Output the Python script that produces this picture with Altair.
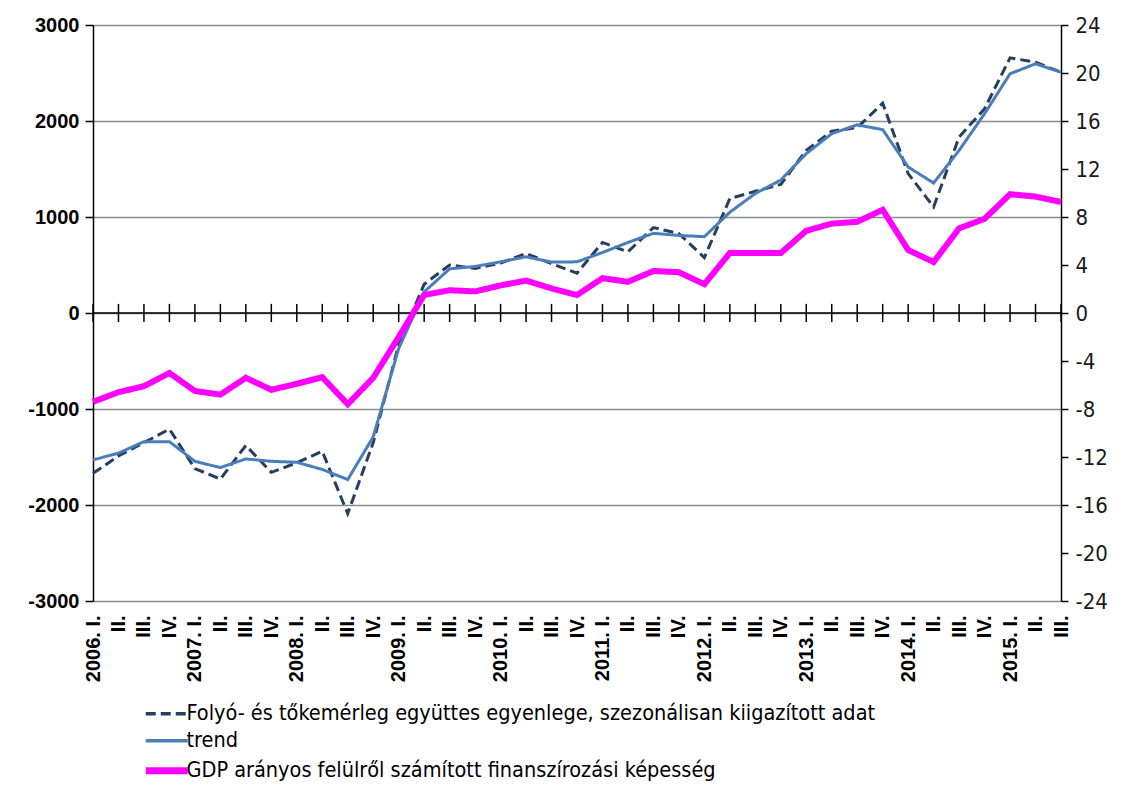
import altair as alt
import pandas as pd

quarter_labels = [
    "2006. I.", "II.", "III.", "IV.",
    "2007. I.", "II.", "III.", "IV.",
    "2008. I.", "II.", "III.", "IV.",
    "2009. I.", "II.", "III.", "IV.",
    "2010. I.", "II.", "III.", "IV.",
    "2011. I.", "II.", "III.", "IV.",
    "2012. I.", "II.", "III.", "IV.",
    "2013. I.", "II.", "III.", "IV.",
    "2014. I.", "II.", "III.", "IV.",
    "2015. I.", "II.", "III.",
]

balance = [-1670, -1490, -1350, -1210, -1620, -1730, -1380, -1660, -1560, -1440,
           -2090, -1350, -330, 300, 500, 465, 520, 620, 515, 415,
           735, 637, 890, 828, 577, 1192, 1268, 1340, 1694, 1895,
           1930, 2185, 1452, 1105, 1833, 2128, 2658, 2612, 2508]

trend = [-1530, -1460, -1340, -1340, -1545, -1610, -1520, -1545, -1555, -1630,
         -1735, -1290, -370, 220, 460, 485, 533, 585, 530, 533,
         630, 735, 830, 808, 795, 1050, 1245, 1385, 1660, 1868,
         1960, 1910, 1521, 1354, 1694, 2076, 2492, 2596, 2508]

gdp_ratio = [-7.4, -6.6, -6.1, -5.0, -6.5, -6.8, -5.4, -6.4, -5.9, -5.35,
             -7.6, -5.4, -2.0, 1.5, 1.9, 1.8, 2.3, 2.7, 2.05, 1.5,
             2.9, 2.6, 3.5, 3.4, 2.4, 5.0, 5.0, 5.0, 6.85, 7.45,
             7.6, 8.6, 5.25, 4.25, 7.05, 7.85, 9.9, 9.7, 9.25]

series_names = [
    "Folyó- és tőkemérleg együttes egyenlege, szezonálisan kiigazított adat",
    "trend",
    "GDP arányos felülről számított finanszírozási képesség",
]
series_colors = ["#243F60", "#4A7EBB", "#FF00FF"]
series_dash = [[10, 5], [1, 0], [1, 0]]

left_ticks = [-3000, -2000, -1000, 0, 1000, 2000, 3000]
right_ticks = [-24, -20, -16, -12, -8, -4, 0, 4, 8, 12, 16, 20, 24]

n = len(quarter_labels)
idx = list(range(n))

df = pd.DataFrame({
    "idx": idx * 3,
    "value": balance + trend + gdp_ratio,
    "series": [series_names[0]] * n + [series_names[1]] * n + [series_names[2]] * n,
})
left_df = df[df["series"] != series_names[2]]
right_df = df[df["series"] == series_names[2]]
ticks_df = pd.DataFrame({"idx": idx})
zero_df = pd.DataFrame({"v": [0]})

bold_font = "Liberation Sans"
cond_font = "DejaVu Sans Condensed, DejaVu Sans"

label_array = "[" + ",".join("'" + s + "'" for s in quarter_labels) + "]"

x_scale = alt.Scale(domain=[0, n - 1], nice=False, zero=False)
x_axis = alt.Axis(
    values=idx, labelExpr=label_array + "[datum.value]", labelAngle=270,
    domain=False, ticks=False, grid=False, labelOverlap=False, labelFlush=False,
    labelPadding=14, labelFont=bold_font, labelFontSize=20, labelFontWeight="bold",
    labelColor="black", title=None,
)

left_scale = alt.Scale(domain=[-3000, 3000], nice=False, zero=False)
right_scale = alt.Scale(domain=[-24, 24], nice=False, zero=False)

left_axis = alt.Axis(
    orient="left", values=left_ticks, grid=True, gridColor="#8c8c8c", gridWidth=1.3,
    domainColor="black", domainWidth=1.5, tickColor="black", tickSize=8, tickWidth=1.5,
    labelExpr="'' + datum.value", labelFont=bold_font, labelFontSize=20,
    labelFontWeight="bold", labelColor="black", labelPadding=6, title=None,
)
right_axis = alt.Axis(
    orient="right", values=right_ticks, grid=False,
    domainColor="black", domainWidth=1.5, tickColor="black", tickSize=7, tickWidth=1.5,
    labelExpr="'' + datum.value", labelFont=cond_font, labelFontSize=22,
    labelColor="#1a1a1a", labelPadding=7, title=None,
)

legend_def = alt.Legend(
    title=None,
    symbolStrokeWidth=alt.ExprRef(expr="datum.index == 2 ? 7 : 3.5"),
)
color_enc = alt.Color("series:N", scale=alt.Scale(domain=series_names, range=series_colors),
                      legend=legend_def)
dash_enc = alt.StrokeDash("series:N", scale=alt.Scale(domain=series_names, range=series_dash),
                          legend=legend_def)

x_enc = alt.X("idx:Q", scale=x_scale, axis=x_axis)

zero_rule = alt.Chart(zero_df).mark_rule(color="black", strokeWidth=1.5).encode(
    y=alt.Y("v:Q", scale=left_scale, axis=left_axis)
)

tick_rules = alt.Chart(ticks_df).mark_rule(color="black", strokeWidth=1.5).encode(
    x=x_enc,
    y=alt.YDatum(datum=-95, scale=left_scale, axis=left_axis),
    y2=alt.datum(95),
)

left_lines = alt.Chart(left_df).mark_line(strokeWidth=3).encode(
    x=x_enc,
    y=alt.Y("value:Q", scale=left_scale, axis=left_axis),
    color=color_enc, strokeDash=dash_enc,
)

left_layer = alt.layer(zero_rule, tick_rules, left_lines)

right_line = alt.Chart(right_df).mark_line(strokeWidth=6).encode(
    x=x_enc,
    y=alt.Y("value:Q", scale=right_scale, axis=right_axis),
    color=color_enc, strokeDash=dash_enc,
)

chart = alt.layer(left_layer, right_line).resolve_scale(y="independent").properties(
    width=968, height=576,
    autosize=alt.AutoSizeParams(type="none"),
    padding={"left": 85, "top": 17, "right": 54, "bottom": 190},
).configure_view(stroke=None).configure_legend(
    orient="none", legendX=63, legendY=678, direction="vertical",
    labelFont=cond_font, labelFontSize=21.5, labelColor="black", labelLimit=0,
    symbolType="stroke", symbolSize=1764, rowPadding=4, labelOffset=9, padding=0,
)

chart.save("out.html", embed_options={"renderer": "svg", "actions": False})
